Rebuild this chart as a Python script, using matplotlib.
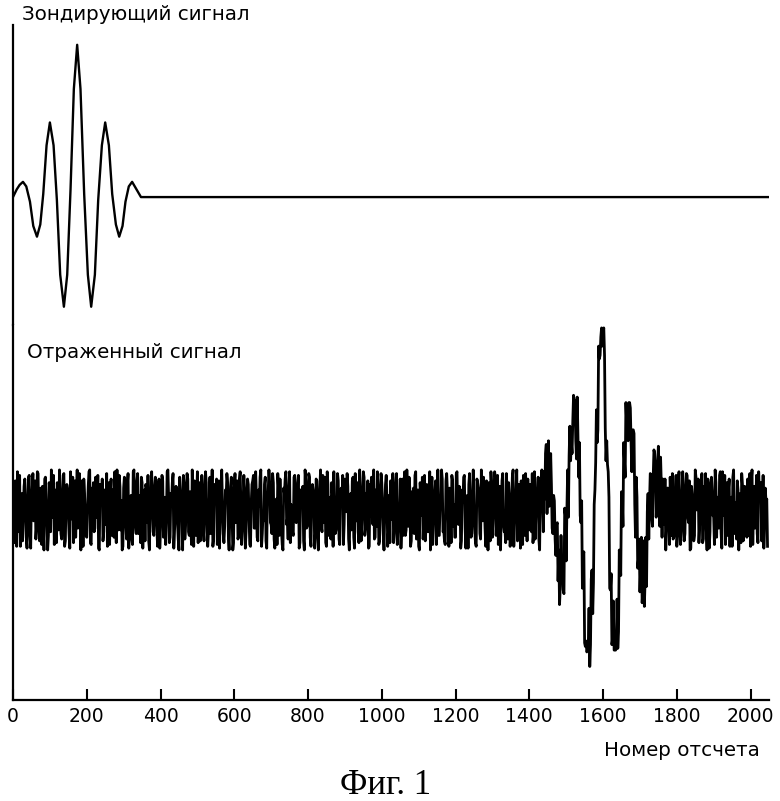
import numpy as np
import matplotlib.pyplot as plt

# probing pulse (sample number, relative amplitude)
probe_x = [0, 10, 18, 27, 36, 46, 55, 65, 74, 82, 91, 100, 110, 119, 128, 138,
           147, 156, 165, 174, 183, 193, 203, 212, 222, 231, 241, 250, 260,
           269, 279, 288, 297, 305, 314, 323, 335, 347, 2048]
probe_y = [0.0, 0.05, 0.08, 0.10, 0.07, -0.03, -0.19, -0.26, -0.18, 0.02,
           0.34, 0.49, 0.34, -0.02, -0.51, -0.72, -0.51, 0.05, 0.71, 1.0,
           0.71, 0.02, -0.51, -0.72, -0.51, -0.02, 0.34, 0.49, 0.34, 0.02,
           -0.18, -0.26, -0.19, -0.03, 0.07, 0.10, 0.05, 0.0, 0.0]

# reflected trace, sampled every 2nd sample (hundredths):
# noise_a at samples 0, 4, 8, ...; noise_b at samples 2, 6, 10, ...
step = 2
noise_a = [
    14, -18, 7, 21, -12, -20, 9, -3, 17, -15, 4, 19, -21, 11, -6, 16,
    -9, 20, -17, 2, 13, -22, 18, -7, -14, 10, 22, -4, -19, 6, 15, -11,
    3, -16, 19, -20, 8, 12, -13, 21, -5, -18, 16, 1, -10, 20, -22, 9,
    17, -6, -15, 13, 22, -19, 5, -12, 18, 0, -21, 14, 7, -17, 11, -8,
    -20, 15, 10, -14, -3, 21, -18, 6, 19, -11, -22, 12, 4, -16, 20, -1,
    8, -19, 22, -9, 16, -13, -5, 18, -21, 11, 14, -7, -17, 3, 21, -12,
    13, 2, -20, 17, -10, 19, -15, 7, -4, 22, -18, 9, 15, -21, -2, 12,
    -16, 18, 5, -22, 14, -8, 20, -12, 10, -19, 1, 16, -14, 21, -6, -17,
    19, -11, 8, 15, -20, 4, -13, 22, -16, 6, 17, -9, -21, 13, 3, -18,
    11, 20, -15, -2, 18, -22, 12, -7, 16, -14, 21, -19, 5, 9, -12, 17,
    -4, -20, 14, 19, -10, 7, -17, 2, 22, -13, -6, 18, -21, 10, 15, -8,
    20, -16, 3, -19, 12, 17, -11, -22, 9, 21, -5, 13, -18, 1, -14, 19,
    -7, 15, -21, 11, 6, -17, 22, -10, -3, 18, -20, 14, 8, -13, 16, -22,
    12, -9, 19, -4, -18, 21, -14, 7, 15, -20, 2, -11, 20, -16, 10, 5,
    -19, 17, -1, 13, -22, 9, 16, -15, 20, -6, -12, 22, -17, 4, 18, -10,
    6, -21, 14, 18, -8, -16, 11, 21, -19, 3, 15, -13, -2, 19, -20, 8,
    16, -5, -18, 10, 20, -12, 1, -21, 17, 7, -14, 22, -9, 12, -17, 4,
    -13, 21, 9, -20, 15, -3, -16, 19, -10, 13, 5, -22, 18, -7, 11, -19,
    22, -14, 6, 17, -11, -19, 20, -2, 12, -18, 16, 3, -15, 21, -8, 10,
    -17, 4, 19, -21, 8, 14, -6, -13, 22, -9, -20, 15, 11, -16, 2, 18,
    -10, 16, -22, 12, 21, -15, 7, 18, -4, -19, 13, -1, 20, -12, -18, 9,
    15, -20, 3, 22, -7, 11, -17, 14, -21, 6, 19, -14, 0, 17, -11, -5,
    20, -12, -16, 8, 18, -22, 13, -3, 10, 16, -19, 21, -9, 5, -15, 12,
    -8, 19, 11, -6, 2, -13, 22, -20, 15, 7, -10, -17, 8, 5, -21, 3,
    17, -6, -19, 21, -14, -6, 1, -16, 18, -22, 12, 6, -11, 19, -3, 5,
    10, 14, -21, 5, 16, -9, -18, 20, -2, -4, -15, 22, -12, 8, 17, -19,
    -1, -17, 4, -11, 7, 19, -22, 15, -6, -14, 21, -8, -20, 11, 16, -9,
    18, -13, 4, 14, -21, 10, -5, 22, -18, 1, 17, -10, 12, -19, 6, 20,
    -15, 9, -20, 16, 3, -12, 21, -17, 8, 19, -7, -22, 13, 2, -14, 18,
    5, -18, 12, 20, -16, 6, -11, 17, -21, 14, 10, -4, 22, -15, -8, 19,
    -12, 21, -3, -19, 15, 11, -20, 7, 18, -13, 4, 16, -22, 9, 20, -17,
    13, -7, 17, -14, -20, 22, 2, -10, 19, -18, 8, 15, -5, -21, 12, 6,
]
noise_b = [
    -11, 16, -20, 5, 19, -8, -17, 13, 2, -21, 18, -14, 9, 20, -3, -16,
    21, -5, 12, -19, -9, 17, 4, -22, 15, -12, -1, 19, 11, -18, 7, 22,
    -13, 8, 20, -17, 14, -2, -21, 10, 18, -9, -15, 22, -6, 3, 16, -20,
    9, -14, 1, 21, -18, 12, 15, -10, -4, 19, -22, 6, 17, -12, -7, 20,
    2, -19, 17, 11, -15, -6, 22, -11, 13, 5, -20, 18, -9, 14, -21, 7,
    -16, 21, -4, -13, 20, 8, -18, 15, -2, -17, 12, 19, -22, 10, 1, -14,
    18, -9, 14, -21, 3, 16, -12, -19, 21, 7, -15, 4, 20, -11, 13, -6,
    -22, 11, -3, 19, -16, 9, 17, -14, -8, 22, -20, 13, 6, -18, 15, 1,
    12, -17, 21, -6, -12, 18, 2, -20, 14, 10, -19, 16, -4, 22, -13, -9,
    7, 15, -22, 13, -1, -18, 20, 5, -16, 17, 3, -11, 19, -21, 8, 14,
    -19, 4, 16, -10, 21, -15, 11, 18, -20, -2, 14, -17, 9, 22, -7, -13,
    15, -21, 6, 20, -14, 1, -19, 12, 17, -8, -16, 21, 3, -12, 18, -5,
    -3, 19, -18, 8, 13, -22, 16, -9, 20, -15, 5, 11, -21, 17, -10, 2,
    22, -12, -7, 18, -20, 14, 4, -16, 9, 21, -13, -4, 16, -19, 12, 19,
    -8, 13, 20, -16, 6, -11, 18, -21, 1, 15, -18, 10, -5, 21, -14, 9,
    16, -20, 8, -3, 22, -15, -9, 13, -17, 20, 4, -22, 14, 7, -12, -18,
    -5, 20, -13, 15, -19, 2, 17, -8, -14, 21, -11, 6, 18, -20, 10, 12,
    19, -16, 11, -22, 7, 18, -4, -17, 14, -12, 21, 1, -19, 9, 16, -7,
    -14, 3, 22, -12, -17, 16, 10, -20, 5, 19, -9, -15, 20, -3, 13, -21,
    11, 18, -10, 6, -21, 20, -15, 9, -1, -18, 17, 12, -13, 22, -6, 4,
    -20, 7, 15, -17, 12, -4, 21, -14, 19, 3, -22, 16, -8, -11, 20, -16,
    6, -13, 18, -20, -5, 22, -10, 11, 16, -19, 8, 20, -17, 2, 14, -12,
    -18, 21, -2, 13, -15, 10, 17, -21, -7, 20, 5, -14, 19, -16, 11, -4,
    14, -9, -17, 22, 8, -20, 12, 1, -19, 16, -6, -3, 4, -15, 18, -11,
    -12, 17, 9, -19, -4, -2, 20, -10, 13, -18, 6, 21, -16, 3, 2, -3,
    20, -15, 4, 16, -21, 11, -7, -3, -2, 19, -13, 8, 22, -18, -1, 15,
    -6, 3, 4, -22, 14, -12, 19, -17, 10, 2, -15, 18, -9, -20, 21, 7,
    13, -21, 17, 5, -11, 22, -18, 9, 15, -7, -20, 12, 1, 18, -14, -16,
    -9, 19, -14, 21, -19, 6, 11, -13, 20, -4, 16, -21, 8, -17, 22, 0,
    17, -8, 3, -18, 13, 20, -22, 10, -12, 18, -3, -19, 15, 7, -10, 21,
    -21, 12, 19, -6, -14, 17, 5, -20, 22, -9, -16, 11, 2, -18, 14, 9,
    8, -15, -11, 20, 16, -19, 13, -2, -13, 21, 10, -17, 19, -8, 4, -20,
]

# echo of the pulse every 2nd sample, starting at sample 1420 (hundredths)
echo_start = 1420
echo = [0, -2, 0, -1, 0, 2, 3, 5, 7, 9, 11, 13, 15, 16, 17, 17, 17, 16, 14, 12,
        9, 6, 2, -3, -7, -12, -17, -22, -26, -30, -33, -35, -36, -36, -36, -34,
        -31, -26, -21, -15, -8, -1, 7, 15, 23, 30, 37, 43, 48, 52, 55, 56, 55,
        53, 49, 44, 37, 29, 20, 9, -1, -12, -24, -34, -44, -54, -61, -68, -72,
        -75, -75, -74, -70, -64, -56, -46, -35, -22, -9, 5, 20, 34, 48, 60, 71,
        80, 88, 93,
        95,
        93, 88, 80, 71, 60, 48, 34, 20, 5, -9, -22, -35, -46, -56, -64, -70,
        -74, -75, -75, -72, -68, -61, -54, -44, -34, -24, -12, -1, 9, 20, 29,
        37, 44, 49, 53, 55, 56, 55, 52, 48, 43, 37, 30, 23, 15, 7, -1, -8, -15,
        -21, -26, -31, -34, -36, -36, -36, -35, -33, -30, -26, -22, -17, -12,
        -7, -3, 2, 6, 9, 12, 14, 16, 17, 17, 17, 16, 15, 13, 11, 9, 7, 5, 3, 2,
        0, -1, 0, -2, 0]

xticks = list(range(0, 2001, 200))

reflected = np.empty(len(noise_a) + len(noise_b))
reflected[0::2] = noise_a
reflected[1::2] = noise_b
i0 = echo_start // step
reflected[i0:i0 + len(echo)] += echo
reflected /= 100
x = np.arange(len(reflected)) * step

fig = plt.figure(figsize=(7.8, 8.01), dpi=100)
left, width = 13 / 780, 756 / 780
ax1 = fig.add_axes([left, 1 - 325 / 801, width, 300 / 801])
ax2 = fig.add_axes([left, 1 - 700 / 801, width, 375 / 801], sharex=ax1)

ax1.plot(probe_x, probe_y, color='black', lw=1.7)
ax1.set_ylim(-0.84, 1.13)
ax2.plot(x, reflected, color='black', lw=2.0)
ax2.set_ylim(-1.044, 1.016)
ax2.set_xlim(0, 2050)

for ax in (ax1, ax2):
    ax.spines['top'].set_visible(False)
    ax.spines['right'].set_visible(False)
    ax.spines['left'].set_linewidth(1.6)
    ax.set_yticks([])
ax1.spines['bottom'].set_visible(False)
ax1.tick_params(axis='x', bottom=False, labelbottom=False)
ax2.spines['bottom'].set_linewidth(1.6)
ax2.set_xticks(xticks)
ax2.tick_params(axis='x', direction='in', length=8, width=1.5, labelsize=13.5, pad=5)

fig.text(22 / 780, 1 - 15 / 801, 'Зондирующий сигнал', fontsize=14.3, va='center', ha='left')
fig.text(27 / 780, 1 - 353 / 801, 'Отраженный сигнал', fontsize=14.3, va='center', ha='left')
fig.text(760 / 780, 1 - 751 / 801, 'Номер отсчета', fontsize=14.3, va='center', ha='right')
fig.text(386 / 780, 1 - 785 / 801, 'Фиг. 1', fontsize=25, va='center', ha='center',
         family='Liberation Serif')

fig.savefig('out.png', dpi=100)
